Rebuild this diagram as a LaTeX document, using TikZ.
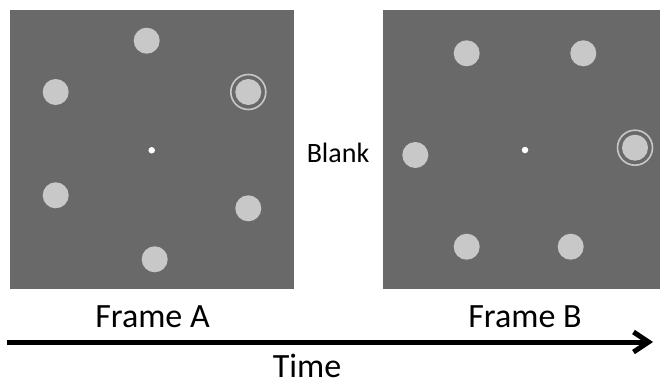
\documentclass[tikz,border=0pt]{standalone}
\definecolor{screengray}{RGB}{105, 105, 105}
\definecolor{discgray}{RGB}{200, 200, 200}
\usepackage{fontspec}
\setmainfont{Carlito}
\usepackage{tikz}
\usetikzlibrary{arrows.meta, positioning}

\begin{document}
\begin{tikzpicture}[x=1pt, y=-1pt,
    screen/.style={rectangle, fill=screengray, inner sep=0pt},
    disc/.style={circle, fill=discgray, inner sep=0pt, minimum size=26pt},
    ring/.style={circle, draw=discgray, line width=1.6pt, inner sep=0pt, minimum size=35pt},
    fixdot/.style={circle, fill=white, inner sep=0pt, minimum size=6.5pt},
    label/.style={font=\fontsize{34}{40}\selectfont, anchor=base, inner sep=0pt}]
  \useasboundingbox (0,0) rectangle (661,383);

  % Frame A
  \node[screen, minimum width=284pt, minimum height=279pt] (frameA) at (152,149.5) {};
  \node[fixdot] (fixA) at (151.7,150.3) {};
  \node[disc] (a1) at (146.7,40.7) {};
  \node[disc] (a2) at (55.7,92) {};
  \node[disc] (a3) at (248.3,92) {};
  \node[ring] (ringA) at (a3) {};
  \node[disc] (a4) at (55.7,195.3) {};
  \node[disc] (a5) at (248.3,208.3) {};
  \node[disc] (a6) at (154.7,259.3) {};

  % Frame B
  \node[screen, minimum width=277pt, minimum height=279pt] (frameB) at (521.5,149.5) {};
  \node[fixdot] (fixB) at (525,150) {};
  \node[disc] (b1) at (466.7,53.3) {};
  \node[disc] (b2) at (583.3,53.3) {};
  \node[disc] (b3) at (415.3,155) {};
  \node[disc] (b4) at (635,147.7) {};
  \node[ring] (ringB) at (b4) {};
  \node[disc] (b5) at (466.7,246.7) {};
  \node[disc] (b6) at (570.7,246.7) {};

  % Labels
  \node[label, font=\fontsize{28}{32}\selectfont] (blank) at (338,162) {Blank};
  \node[label] (labA) at (152.5,327) {Frame A};
  \node[label] (labB) at (525,327) {Frame B};

  % Time axis
  \coordinate (tstart) at (7,342);
  \coordinate (tend) at (653,342);
  \draw[line width=5pt, -{Straight Barb[length=15pt, width=20pt]}] (tstart) -- (tend);
  \node[label] (time) at (307,377) {Time};
\end{tikzpicture}
\end{document}
